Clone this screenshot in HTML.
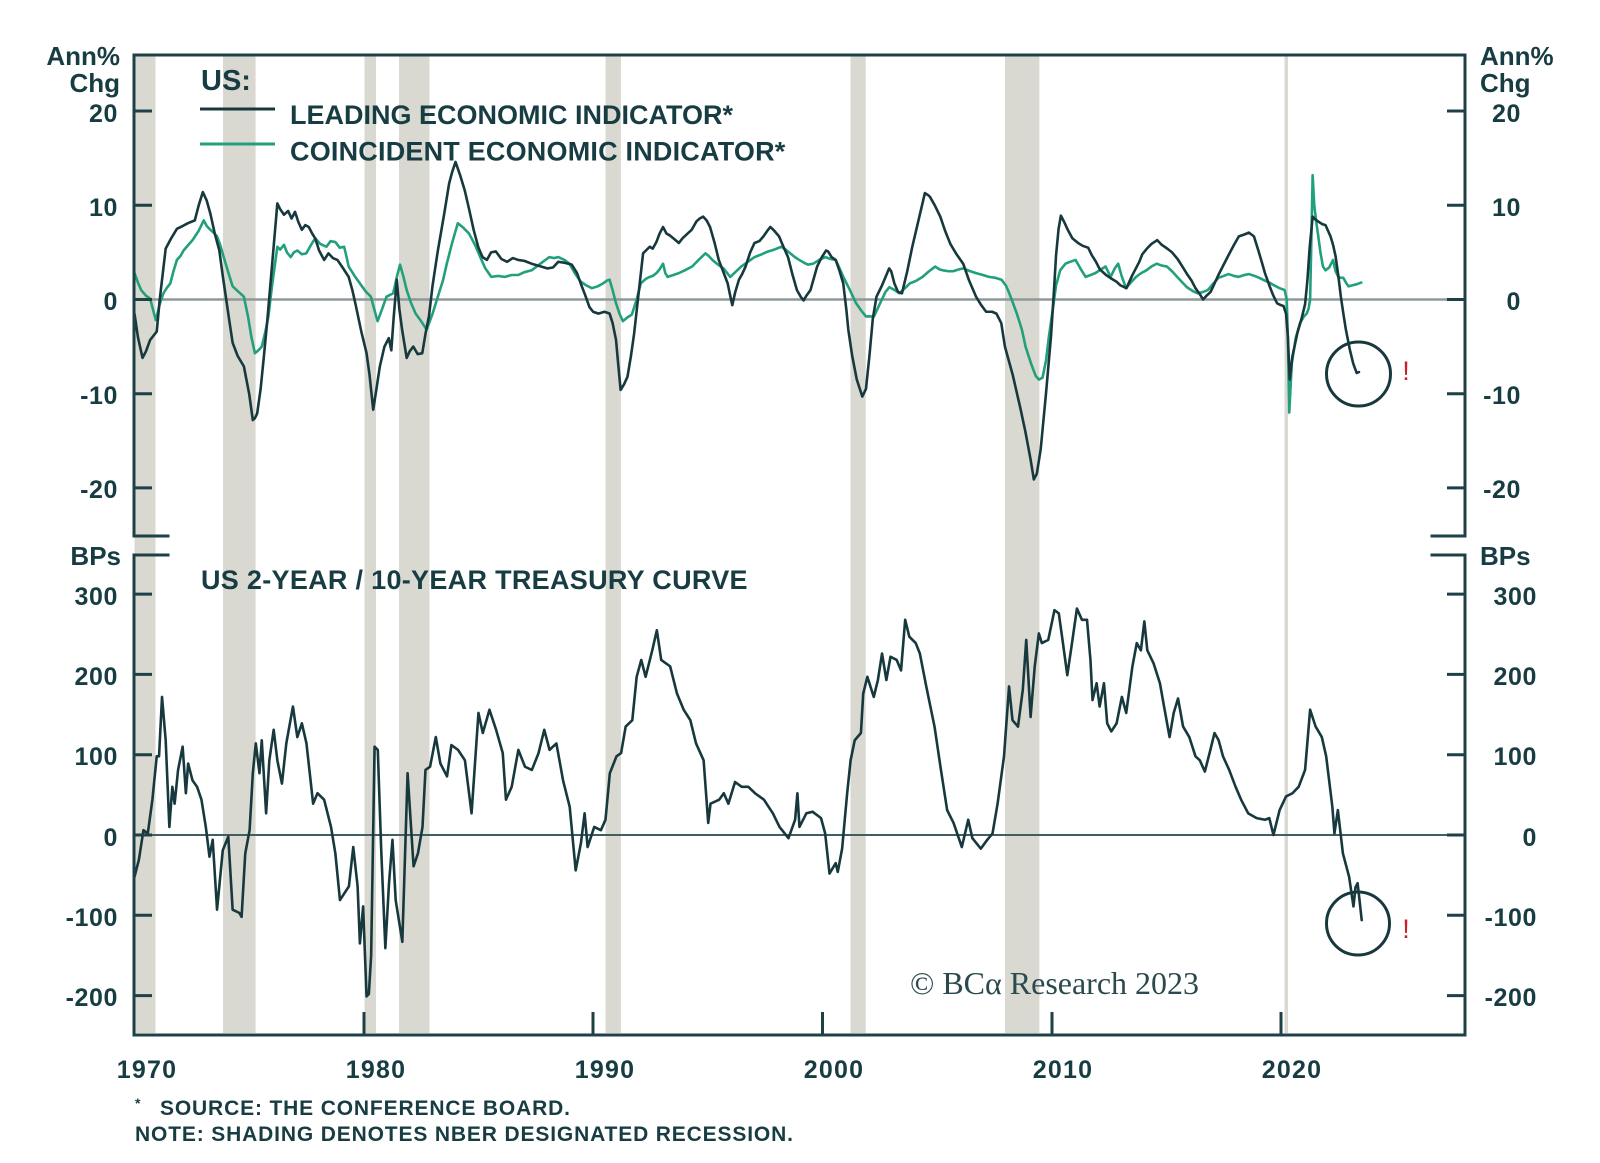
<!DOCTYPE html>
<html><head><meta charset="utf-8"><style>
html,body{margin:0;padding:0;background:#fff;}
svg{display:block;}
text{font-family:"Liberation Sans",Arial,sans-serif;fill:#173d43;}
.b{font-weight:bold;}
.s{fill:none;vector-effect:non-scaling-stroke;stroke-linejoin:round;stroke-linecap:round;}
</style></head><body>
<svg width="1600" height="1163" viewBox="0 0 1600 1163" xmlns="http://www.w3.org/2000/svg">
<rect width="1600" height="1163" fill="#fff"/>
<!-- recession bars -->
<g fill="#d9d9d1">
<rect x="134.5" y="56" width="21" height="977"/>
<rect x="223" y="56" width="32.6" height="977"/>
<rect x="364.5" y="56" width="11.5" height="977"/>
<rect x="399" y="56" width="30.5" height="977"/>
<rect x="605.5" y="56" width="15.4" height="977"/>
<rect x="850.5" y="56" width="15.2" height="977"/>
<rect x="1005" y="56" width="34.4" height="977"/>
<rect x="1284.5" y="56" width="3.5" height="977"/>
</g>
<!-- zero lines -->
<line x1="134" y1="299.5" x2="1465" y2="299.5" stroke="#8d999b" stroke-width="2.5"/>
<line x1="134" y1="835" x2="1465" y2="835" stroke="#3f5f63" stroke-width="2"/>

<!-- top panel series -->
<g transform="matrix(22.93 0 0 -9.42 134.5 299.5)">
<polyline class="s" stroke="#22a07c" stroke-width="2.6" points="0,2.8 0.15,1.8 0.29,1.0 0.5,0.4 0.68,0.1 0.8,-1 0.93,-2.2 1.1,-0.5 1.26,0.65 1.4,1.2 1.56,1.7 1.7,3 1.85,4.2 2.0,4.6 2.14,5.2 2.35,5.8 2.53,6.3 2.8,7.3 3.02,8.4 3.15,7.8 3.31,7.4 3.45,7.1 3.6,6.7 3.75,5.7 3.89,4.5 4.1,2.8 4.28,1.4 4.5,0.9 4.77,0.3 4.95,-1.8 5.1,-4 5.25,-5.7 5.4,-5.4 5.55,-5.0 5.7,-3.5 5.84,-1.8 6.0,1.5 6.23,5.6 6.35,5.3 6.52,5.8 6.65,5.0 6.81,4.5 6.95,5 7.1,5.2 7.3,4.8 7.49,4.9 7.7,5.8 7.88,6.5 8.1,5.9 8.37,5.6 8.55,6.2 8.76,6.1 8.95,5.5 9.14,5.6 9.25,4.5 9.34,3.5 9.6,2.5 9.92,1.4 10.1,0.8 10.31,0.3 10.45,-1 10.6,-2.3 10.8,-1 10.99,0.3 11.15,0.5 11.28,0.65 11.45,2.5 11.58,3.7 11.72,2.5 11.87,1.0 12.05,-0.3 12.26,-1.5 12.5,-2.3 12.74,-3.2 13.0,-1.5 13.23,0.3 13.45,2 13.62,3.8 13.85,6 14.1,8.1 14.35,7.6 14.59,7.0 14.85,5.8 15.08,4.5 15.3,3.3 15.56,2.4 15.85,2.5 16.15,2.4 16.45,2.6 16.73,2.6 17.0,2.9 17.32,3.1 17.7,3.8 18.09,4.5 18.3,4.4 18.48,4.5 18.75,4.2 18.97,3.8 19.2,2.8 19.46,1.9 19.7,1.5 19.95,1.2 20.2,1.4 20.43,1.7 20.6,2.0 20.72,2.1 20.85,1 21.0,-0.4 21.15,-1.5 21.3,-2.3 21.5,-1.9 21.69,-1.6 21.9,0 22.08,1.7 22.3,2.2 22.47,2.4 22.6,2.5 22.76,2.8 22.9,3.2 23.05,3.8 23.15,2.8 23.25,2.4 23.5,2.6 23.74,2.8 24.0,3.1 24.32,3.5 24.6,4.2 24.9,4.9 25.05,4.6 25.2,4.2 25.45,3.7 25.69,3.3 25.85,2.8 25.98,2.4 26.2,2.9 26.46,3.5 26.75,4.0 27.04,4.5 27.35,4.8 27.63,5.1 27.9,5.3 28.21,5.6 28.4,5.3 28.6,4.9 28.8,4.5 28.99,4.2 29.2,3.9 29.38,3.7 29.6,3.8 29.86,4.2 30.13,4.5 30.35,4.3 30.58,4.2 30.75,3.3 30.91,2.4 31.2,1 31.47,-0.4 31.7,-1.2 31.9,-1.8 32.25,-1.8 32.4,-1 32.58,-0.07 32.75,0.8 32.92,1.3 33.15,1 33.36,0.66 33.6,1.2 33.81,1.7 34.1,2.0 34.37,2.4 34.65,3 34.92,3.5 35.1,3.2 35.25,3.1 35.5,3.0 35.7,3.0 35.95,3.2 36.15,3.3 36.45,3.0 36.7,2.8 37.0,2.6 37.26,2.4 37.55,2.3 37.81,2.1 38.0,1.5 38.15,0.66 38.3,-0.3 38.48,-1.5 38.7,-3.2 38.86,-5.0 39.1,-6.8 39.3,-8.1 39.44,-8.5 39.6,-8.3 39.75,-6.5 39.88,-3.9 40.05,-1 40.19,1.5 40.37,3.1 40.6,3.8 40.8,4.0 41.04,4.2 41.25,3.3 41.48,2.4 41.7,2.6 41.9,2.8 42.15,3.2 42.35,3.5 42.45,3.0 42.57,2.4 42.75,3.3 42.9,3.8 43.05,2.5 43.24,1.2 43.45,1.8 43.68,2.4 43.9,2.8 44.13,3.1 44.35,3.5 44.58,3.8 44.8,3.6 45.02,3.5 45.25,3 45.47,2.4 45.7,1.8 45.9,1.3 46.15,0.9 46.37,0.66 46.6,0.8 46.81,1.0 47.05,1.7 47.27,2.3 47.5,2.5 47.71,2.7 47.95,2.5 48.15,2.4 48.4,2.6 48.6,2.7 48.85,2.5 49.05,2.3 49.3,2.0 49.49,1.8 49.7,1.5 49.94,1.2 50.16,1.0 50.25,0 50.3,-4 50.36,-12 50.47,-6.8 50.65,-4 50.83,-2.5 51.0,-1.8 51.12,-1.5 51.2,-1.0 51.27,0 51.33,7 51.38,13.2 51.45,10 51.55,8 51.61,7.0 51.72,5 51.83,3.5 51.94,3.1 52.1,3.4 52.27,4.2 52.38,3 52.5,2.4 52.61,2.3 52.72,2.3 52.83,1.8 52.94,1.4 53.1,1.5 53.27,1.6 53.5,1.8"/>
<polyline class="s" stroke="#17393e" stroke-width="2.6" points="0,-1.5 0.15,-4 0.35,-6.2 0.5,-5.5 0.68,-4.3 0.97,-3.4 1.1,0 1.36,5.4 1.6,6.5 1.85,7.5 2.1,7.8 2.33,8.1 2.63,8.4 2.8,10 2.98,11.4 3.15,10.5 3.31,9.1 3.5,7 3.7,5.2 3.85,2.5 4.0,0 4.15,-2.5 4.28,-4.6 4.5,-6 4.77,-7.1 5.0,-10 5.16,-12.8 5.25,-12.6 5.35,-12.1 5.5,-9.5 5.64,-6.1 5.8,-2 5.93,1.7 6.1,6.5 6.23,10.2 6.35,9.6 6.52,9.0 6.7,9.4 6.85,8.6 7.0,9.3 7.15,8.2 7.3,7.4 7.45,7.9 7.6,7.7 7.75,7 7.88,6.5 8.05,5.2 8.27,4.2 8.46,4.9 8.65,4.4 8.85,4.2 9.1,3.3 9.34,2.4 9.5,1 9.63,-0.4 9.9,-3.5 10.12,-5.7 10.25,-8 10.41,-11.7 10.55,-9.5 10.7,-7.1 10.9,-5 11.09,-4.1 11.2,-5.4 11.3,-2 11.44,2.1 11.55,-1 11.67,-3.2 11.87,-6.2 12.0,-5.5 12.16,-5.0 12.35,-5.8 12.55,-5.7 12.7,-3.5 12.84,-1.8 13.0,1.5 13.23,5.2 13.5,9 13.72,12.3 13.85,13.5 14.0,14.6 14.2,13.2 14.4,11.6 14.6,9.5 14.79,7.4 15.0,5.5 15.18,4.5 15.37,4.2 15.55,5 15.76,5.1 16.0,4.3 16.25,4.0 16.5,4.4 16.73,4.2 17.0,4.1 17.32,3.8 17.6,3.6 18.0,3.3 18.25,3.4 18.48,4.0 18.75,3.9 19.07,3.7 19.3,2.8 19.46,1.7 19.65,0.5 19.84,-0.8 20.0,-1.3 20.23,-1.5 20.5,-1.3 20.72,-1.5 20.85,-2.5 21.0,-4.3 21.1,-7 21.2,-9.6 21.35,-9 21.5,-8.2 21.65,-6 21.79,-3.6 22.0,1 22.18,4.9 22.47,5.6 22.6,5.4 22.76,6.1 22.9,7 23.05,7.7 23.2,7 23.35,6.8 23.55,6.4 23.74,6.0 23.9,6.5 24.12,7.0 24.3,7.4 24.51,8.3 24.65,8.6 24.8,8.8 24.95,8.4 25.1,7.7 25.3,6 25.48,4.2 25.7,2.8 25.87,1.7 25.97,0.5 26.07,-0.6 26.2,0.8 26.36,2.1 26.5,2.7 26.65,3.5 26.85,5 27.04,6.0 27.25,6.2 27.43,6.7 27.6,7.3 27.73,7.7 27.9,7.3 28.11,6.7 28.3,5.6 28.5,4.5 28.7,2.6 28.89,1.0 29.05,0.3 29.18,-0.1 29.3,0.4 29.48,1.0 29.62,2.2 29.77,3.5 29.95,4.4 30.16,5.2 30.25,5.1 30.4,4.5 30.58,4.2 30.75,3 30.91,1.7 31.05,-1.2 31.13,-3.2 31.3,-6 31.5,-8.5 31.74,-10.3 31.9,-9.5 32.05,-6 32.2,-2 32.36,0.3 32.6,1.5 32.91,3.3 33.0,3 33.14,1.7 33.3,0.8 33.47,0.66 33.7,3 33.92,5.6 34.2,8.5 34.47,11.3 34.6,11.1 34.69,10.9 34.9,10 35.14,8.8 35.35,7.3 35.58,5.9 35.85,4.8 36.14,3.8 36.4,2 36.7,0.3 36.9,-0.5 37.14,-1.3 37.4,-1.3 37.59,-1.5 37.8,-2.5 37.96,-5.0 38.3,-8 38.63,-11.5 38.85,-14 39.08,-17.0 39.22,-19.1 39.35,-18.5 39.52,-15.9 39.75,-10 39.97,-3.9 40.1,1 40.19,4.7 40.3,7.5 40.4,8.9 40.55,8.2 40.7,7.4 40.9,6.5 41.15,6.0 41.35,5.7 41.59,5.5 41.75,4.7 41.93,4.0 42.1,3.2 42.37,2.6 42.55,2.3 42.82,1.9 43.0,1.5 43.26,1.2 43.5,2.5 43.82,4.0 43.95,4.8 44.15,5.4 44.35,5.9 44.6,6.3 44.8,5.8 45.04,5.4 45.25,5 45.49,4.3 45.7,3.5 45.93,2.6 46.1,2 46.27,1.2 46.45,0.6 46.6,0 46.75,0.4 46.93,0.8 47.1,1.7 47.27,2.6 47.5,3.7 47.71,4.7 47.95,5.8 48.16,6.7 48.4,6.9 48.6,7.1 48.82,6.7 49.0,5.3 49.16,4.0 49.3,2.8 49.49,1.5 49.65,0.5 49.83,-0.4 50.0,-0.6 50.11,-0.7 50.22,-1.5 50.3,-4 50.38,-8.5 50.5,-6 50.72,-3.5 50.9,-2 51.05,-0.5 51.15,2 51.25,5.5 51.38,8.8 51.5,8.5 51.61,8.3 51.8,8.0 51.94,7.9 52.05,7.3 52.16,6.7 52.27,5.8 52.38,4.6 52.5,2.5 52.61,0.3 52.72,-1.5 52.83,-3.2 53.0,-5.3 53.15,-6.8 53.3,-7.8 53.4,-7.7"/>
</g>

<!-- bottom panel series -->
<g transform="matrix(22.93 0 0 -0.803 134.5 835)">
<polyline class="s" stroke="#17393e" stroke-width="2.6" points="0,-52 0.19,-31 0.39,6 0.58,2 0.78,44 0.97,98 1.07,98 1.2,172 1.36,118 1.52,10 1.65,60 1.75,39 1.9,81 2.1,110 2.24,52 2.34,89 2.53,68 2.73,60 2.92,44 3.11,10 3.27,-27 3.41,-6 3.6,-93 3.85,-19 4.09,-2 4.28,-93 4.57,-97 4.67,-102 4.83,-23 5.02,6 5.16,77 5.29,114 5.45,77 5.55,118 5.74,27 5.88,93 6.07,131 6.23,93 6.43,64 6.62,114 6.91,160 7.1,122 7.3,139 7.5,114 7.79,39 7.98,52 8.27,44 8.57,10 8.76,-23 8.96,-81 9.35,-64 9.54,-15 9.73,-64 9.83,-135 9.97,-89 10.12,-201 10.22,-198 10.32,-150 10.47,110 10.61,106 10.76,-19 10.94,-141 11.1,-60 11.25,-6 11.39,-81 11.68,-133 11.91,77 12.17,-39 12.36,-23 12.56,10 12.69,81 12.89,85 13.14,122 13.34,89 13.63,73 13.82,112 14.11,106 14.41,93 14.7,27 15.0,152 15.19,127 15.48,156 15.77,131 16.06,102 16.2,44 16.45,60 16.74,106 17.03,85 17.33,81 17.62,102 17.87,131 18.1,106 18.4,114 18.69,68 18.98,35 19.24,-44 19.47,-10 19.63,27 19.76,-15 20.05,10 20.34,6 20.54,19 20.73,77 21.02,98 21.22,102 21.42,135 21.71,143 21.9,197 22.1,218 22.29,197 22.58,230 22.78,255 22.97,218 23.36,210 23.66,176 23.95,156 24.24,143 24.49,114 24.82,93 25.02,15 25.12,39 25.5,44 25.7,52 25.9,39 26.19,66 26.48,60 26.77,60 27.06,52 27.45,44 27.84,27 28.13,10 28.52,-4 28.81,19 28.91,52 29.0,10 29.3,27 29.57,29 29.94,21 30.12,2 30.31,-48 30.58,-35 30.67,-46 30.86,-17 31.08,52 31.23,93 31.41,118 31.68,127 31.78,176 31.96,197 32.24,172 32.42,193 32.6,226 32.79,193 32.97,222 33.24,218 33.43,205 33.61,268 33.79,247 34.07,239 34.25,226 34.53,185 34.89,135 35.17,81 35.44,31 35.72,15 36.08,-15 36.36,19 36.54,-4 36.91,-17 37.19,-6 37.42,2 37.64,39 37.92,98 38.14,185 38.29,143 38.53,135 38.74,181 38.89,243 39.08,147 39.26,210 39.44,251 39.57,239 39.85,243 40.12,280 40.31,276 40.49,239 40.68,199 40.86,234 41.1,282 41.32,268 41.54,268 41.69,218 41.78,168 41.96,189 42.09,160 42.28,189 42.42,139 42.6,129 42.83,139 43.06,172 43.25,152 43.52,210 43.71,239 43.89,230 44.04,266 44.17,230 44.44,214 44.72,189 44.9,160 45.14,122 45.32,152 45.51,170 45.73,135 46.0,122 46.27,98 46.46,93 46.68,79 46.92,106 47.1,127 47.28,118 47.47,98 47.74,81 48.02,60 48.26,44 48.57,27 48.94,21 49.3,19 49.49,21 49.67,0 49.94,31 50.22,48 50.5,52 50.77,60 51.05,81 51.27,156 51.51,135 51.78,122 51.97,98 52.24,35 52.33,2 52.48,31 52.7,-23 52.97,-52 53.16,-89 53.25,-65 53.34,-60 53.42,-80 53.52,-106"/>
</g>

<!-- axes frame -->
<g stroke="#1d4146" stroke-width="3" fill="none" stroke-linecap="square">
<polyline points="168,536 134,536 134,55 1465,55 1465,536 1432,536"/>
<polyline points="168,555 134,555 134,1035 1465,1035 1465,555 1432,555"/>
</g>
<!-- ticks -->
<g stroke="#1d4146" stroke-width="3">
<line x1="134" y1="111" x2="152" y2="111"/><line x1="134" y1="205.3" x2="152" y2="205.3"/><line x1="134" y1="299.5" x2="152" y2="299.5"/><line x1="134" y1="393.7" x2="152" y2="393.7"/><line x1="134" y1="487.9" x2="152" y2="487.9"/>
<line x1="1465" y1="111" x2="1447" y2="111"/><line x1="1465" y1="205.3" x2="1447" y2="205.3"/><line x1="1465" y1="299.5" x2="1447" y2="299.5"/><line x1="1465" y1="393.7" x2="1447" y2="393.7"/><line x1="1465" y1="487.9" x2="1447" y2="487.9"/>
<line x1="134" y1="594.1" x2="152" y2="594.1"/><line x1="134" y1="674.4" x2="152" y2="674.4"/><line x1="134" y1="754.7" x2="152" y2="754.7"/><line x1="134" y1="835" x2="152" y2="835"/><line x1="134" y1="915.3" x2="152" y2="915.3"/><line x1="134" y1="995.6" x2="152" y2="995.6"/>
<line x1="1465" y1="594.1" x2="1447" y2="594.1"/><line x1="1465" y1="674.4" x2="1447" y2="674.4"/><line x1="1465" y1="754.7" x2="1447" y2="754.7"/><line x1="1465" y1="835" x2="1447" y2="835"/><line x1="1465" y1="915.3" x2="1447" y2="915.3"/><line x1="1465" y1="995.6" x2="1447" y2="995.6"/>
<line x1="364" y1="1035" x2="364" y2="1012"/><line x1="593" y1="1035" x2="593" y2="1012"/><line x1="822.5" y1="1035" x2="822.5" y2="1012"/><line x1="1052" y1="1035" x2="1052" y2="1012"/><line x1="1281" y1="1035" x2="1281" y2="1012"/>
</g>

<!-- circles -->
<circle cx="1358.5" cy="374" r="32" fill="none" stroke="#17393e" stroke-width="3"/>
<circle cx="1358" cy="923.5" r="31.5" fill="none" stroke="#17393e" stroke-width="3"/>
<text x="1406" y="380" text-anchor="middle" font-size="27" style="fill:#c8232c">!</text>
<text x="1406" y="938" text-anchor="middle" font-size="27" style="fill:#c8232c">!</text>

<!-- left axis labels -->
<g class="b" font-size="25" text-anchor="end" letter-spacing="0.6">
<text x="120" y="65" font-size="26" letter-spacing="0">Ann%</text>
<text x="120" y="92" font-size="26" letter-spacing="0">Chg</text>
<text x="118" y="122">20</text>
<text x="118" y="216">10</text>
<text x="118" y="310">0</text>
<text x="118" y="404">-10</text>
<text x="118" y="498">-20</text>
<text x="121" y="565" font-size="26" letter-spacing="0">BPs</text>
<text x="118" y="605">300</text>
<text x="118" y="685">200</text>
<text x="118" y="765">100</text>
<text x="118" y="846">0</text>
<text x="118" y="926">-100</text>
<text x="118" y="1006">-200</text>
</g>
<!-- right axis labels -->
<g class="b" font-size="25" letter-spacing="0.6">
<text x="1480" y="65" font-size="26" letter-spacing="0">Ann%</text>
<text x="1480" y="92" font-size="26" letter-spacing="0">Chg</text>
<text x="1480" y="565" font-size="26" letter-spacing="0">BPs</text>
</g>
<g class="b" font-size="25" text-anchor="end" letter-spacing="0.6">
<text x="1521" y="122">20</text>
<text x="1521" y="216">10</text>
<text x="1521" y="310">0</text>
<text x="1521" y="404">-10</text>
<text x="1521" y="498">-20</text>
<text x="1537" y="605">300</text>
<text x="1537" y="685">200</text>
<text x="1537" y="765">100</text>
<text x="1537" y="846">0</text>
<text x="1537" y="926">-100</text>
<text x="1537" y="1006">-200</text>
</g>
<!-- x labels -->
<g class="b" font-size="25" text-anchor="middle" letter-spacing="1.2">
<text x="147" y="1078">1970</text>
<text x="376" y="1078">1980</text>
<text x="605" y="1078">1990</text>
<text x="834" y="1078">2000</text>
<text x="1063" y="1078">2010</text>
<text x="1292" y="1078">2020</text>
</g>

<!-- legend -->
<text class="b" x="201" y="90" font-size="29">US:</text>
<line x1="200" y1="109" x2="275" y2="109" stroke="#17393e" stroke-width="3"/>
<line x1="200" y1="144" x2="275" y2="144" stroke="#22a07c" stroke-width="3"/>
<text class="b" x="290" y="124" font-size="27">LEADING ECONOMIC INDICATOR*</text>
<text class="b" x="290" y="160.5" font-size="27" letter-spacing="0.2">COINCIDENT ECONOMIC INDICATOR*</text>
<text class="b" x="201" y="589" font-size="27" letter-spacing="0.3">US 2-YEAR / 10-YEAR TREASURY CURVE</text>

<!-- copyright -->
<text x="910" y="994" font-size="32" style="font-family:'Liberation Serif',serif;fill:#2a4a4e">© BCα Research 2023</text>

<!-- footnotes -->
<text class="b" x="135" y="1108" font-size="14">*</text>
<text class="b" x="160" y="1115" font-size="21" letter-spacing="0.85">SOURCE: THE CONFERENCE BOARD.</text>
<text class="b" x="135" y="1141" font-size="21" letter-spacing="0.85">NOTE: SHADING DENOTES NBER DESIGNATED RECESSION.</text>
</svg>
</body></html>
